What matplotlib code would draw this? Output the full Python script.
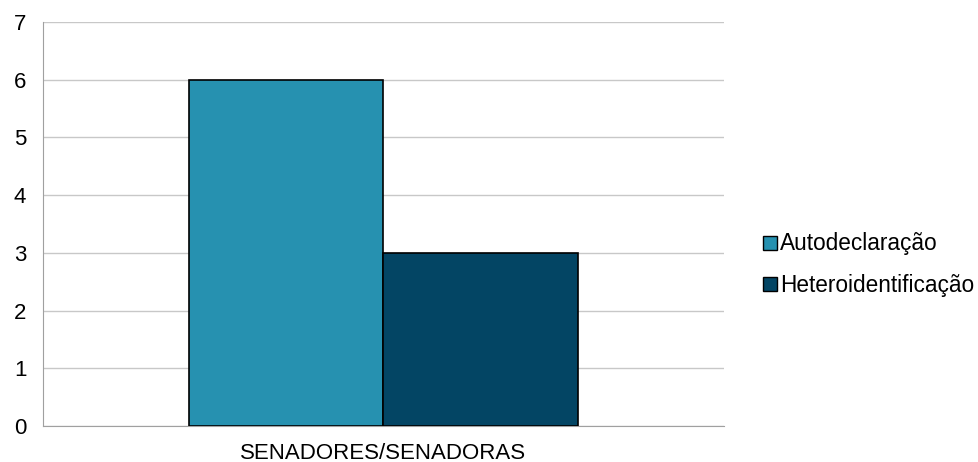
import numpy as np
import matplotlib.pyplot as plt
from matplotlib.lines import Line2D

plt.rcParams['font.family'] = ['Liberation Sans', 'DejaVu Sans']

categoria = ['SENADORES/SENADORAS']
series = ['Autodeclaração', 'Heteroidentificação']
valores = [6, 3]
cores = ['#2691B0', '#034564']

fig = plt.figure(figsize=(9.79, 4.62), dpi=100)
ax = fig.add_axes([43/979, 1-426/462, (724-43)/979, (426-22)/462])

w = 0.285
x = np.arange(len(categoria))
for i, (nome, v) in enumerate(zip(series, valores)):
    ax.bar(x + (i - 0.5)*w, v, width=w, color=cores[i], edgecolor='black',
           linewidth=1.2, label=nome, zorder=3)

ax.set_xlim(-0.5, 0.5)
ax.set_ylim(0, 7)
ax.set_yticks(range(0, 8))
ax.set_xticks(x)
ax.set_xticklabels(categoria)
ax.tick_params(axis='both', length=0, labelsize=16)
ax.tick_params(axis='y', pad=12)
ax.tick_params(axis='x', pad=12)
ax.yaxis.grid(True, color='#c8c8c8', linewidth=1, zorder=0)
for s in ['top', 'right']:
    ax.spines[s].set_visible(False)
ax.spines['left'].set_color('#a0a0a0')
ax.spines['bottom'].set_color('#a0a0a0')

handles = [Line2D([], [], marker='s', linestyle='none', markersize=10,
                  markerfacecolor=c, markeredgecolor='black', markeredgewidth=1)
           for c in cores]
fig.legend(handles, series, loc='center left', bbox_to_anchor=(747/979, 1-264.5/462),
           frameon=False, fontsize=16.3, handletextpad=-0.15, labelspacing=0.8,
           handlelength=1.2, borderaxespad=0)

fig.savefig('out.png', dpi=100)
